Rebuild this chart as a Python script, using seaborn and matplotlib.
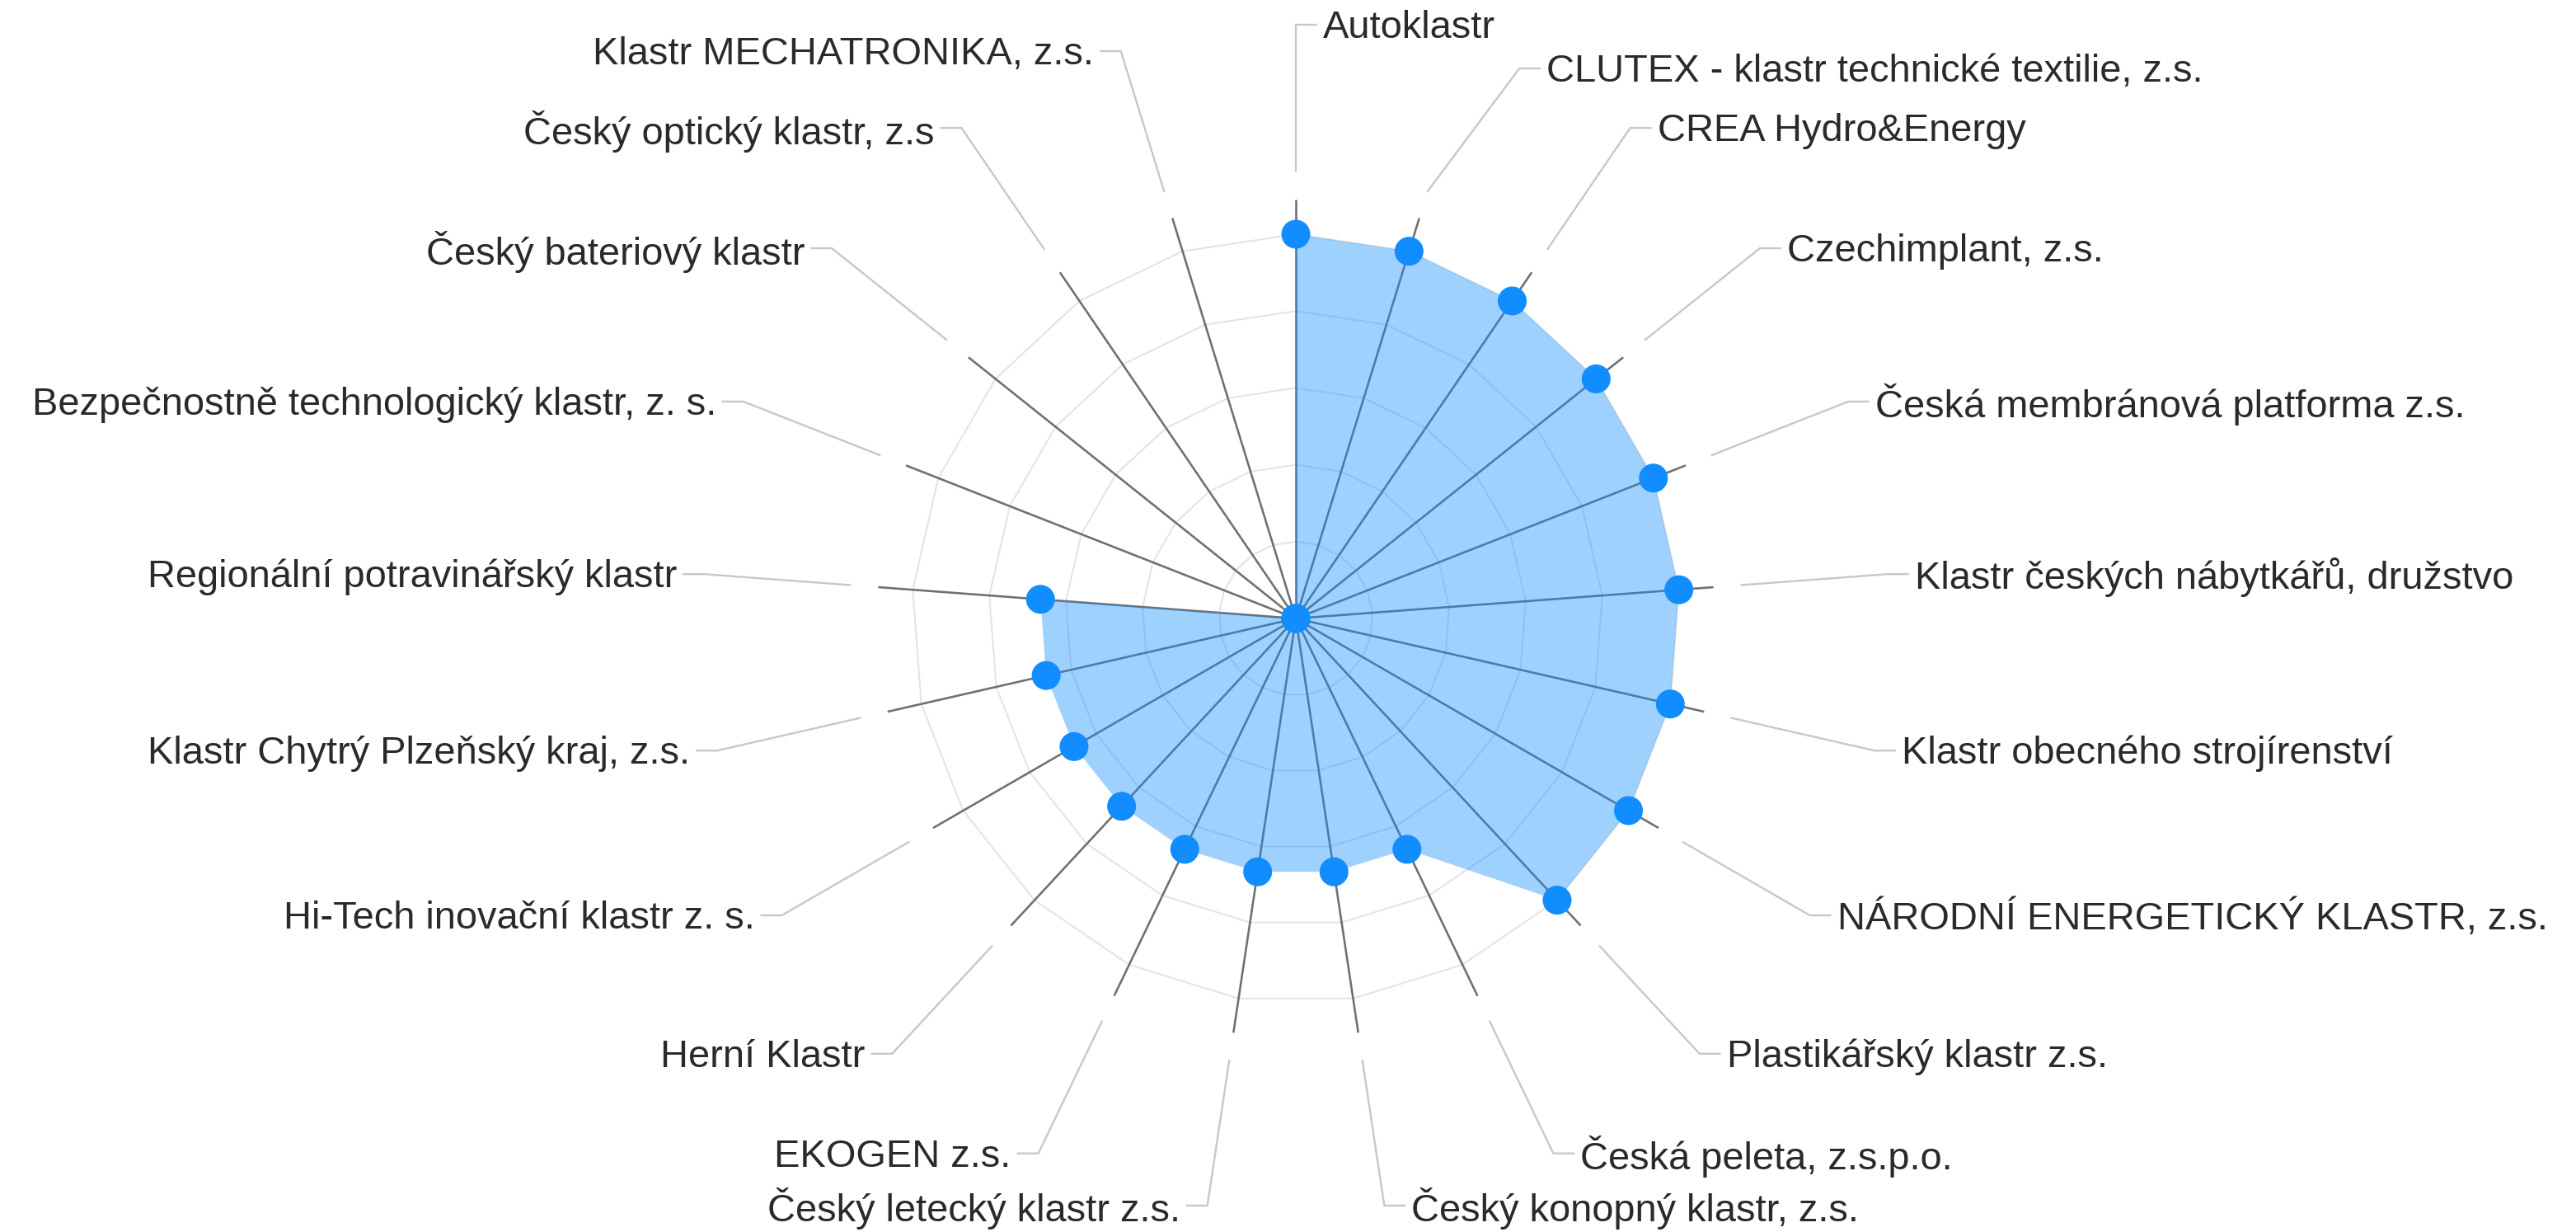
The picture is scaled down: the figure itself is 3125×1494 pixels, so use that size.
import numpy as np
import pandas as pd
import matplotlib
matplotlib.use("Agg")
import matplotlib.pyplot as plt
import seaborn as sns

# cluster names, clockwise from the top
clusters = [
    "Autoklastr",
    "CLUTEX - klastr technické textilie, z.s.",
    "CREA Hydro&Energy",
    "Czechimplant, z.s.",
    "Česká membránová platforma z.s.",
    "Klastr českých nábytkářů, družstvo",
    "Klastr obecného strojírenství",
    "NÁRODNÍ ENERGETICKÝ KLASTR, z.s.",
    "Plastikářský klastr z.s.",
    "Česká peleta, z.s.p.o.",
    "Český konopný klastr, z.s.",
    "Český letecký klastr z.s.",
    "EKOGEN z.s.",
    "Herní Klastr",
    "Hi-Tech inovační klastr z. s.",
    "Klastr Chytrý Plzeňský kraj, z.s.",
    "Regionální potravinářský klastr",
    "Bezpečnostně technologický klastr, z. s.",
    "Český bateriový klastr",
    "Český optický klastr, z.s",
    "Klastr MECHATRONIKA, z.s.",
]
scores = [3, 3, 3, 3, 3, 3, 3, 3, 3, 2, 2, 2, 2, 2, 2, 2, 2, 0, 0, 0, 0]
ring_levels = [0.6, 1.2, 1.8, 2.4, 3.0]
value_max = 3.0

# layout (pixels)
W, H = 3125, 1494
CX, CY = 1572, 750
R_MAX = 466        # radius of the outer ring
SPOKE_R = 508      # dark spoke length
LEADER_R0 = 542    # leader line start
LABEL_R = 720      # elbow radius of the leader lines
MIN_GAP = 53       # min vertical spacing between labels on one side
TICK = 25
PAD = 8

BLUE = "#118DFF"
TEXT = "#2b2a29"

sns.set_style("white")
plt.rcParams["font.family"] = ["Liberation Sans", "DejaVu Sans"]

n = len(clusters)
theta = 2 * np.pi * np.arange(n) / n
df = pd.DataFrame({"cluster": clusters, "score": scores, "theta": theta})
df["r"] = df["score"] / value_max * R_MAX
df["x"] = df["r"] * np.sin(df["theta"])
df["y"] = df["r"] * np.cos(df["theta"])

fig = plt.figure(figsize=(W / 100, H / 100), dpi=100)
ax = fig.add_axes([0, 0, 1, 1])
ax.set_xlim(-CX, W - CX)
ax.set_ylim(-(H - CY), CY)
ax.axis("off")

px = 0.72  # points per pixel

# grid rings (polygons)
closed = np.append(theta, theta[0])
for lvl in ring_levels:
    rr = lvl / value_max * R_MAX
    ax.plot(rr * np.sin(closed), rr * np.cos(closed), color="#e3e3e3",
            lw=2 * px, zorder=1)

# spokes
for t in theta:
    ax.plot([0, SPOKE_R * np.sin(t)], [0, SPOKE_R * np.cos(t)],
            color="#707070", lw=2.6 * px, zorder=2, solid_capstyle="butt")

# filled area
ax.fill(np.append(df["x"], df["x"].iloc[0]), np.append(df["y"], df["y"].iloc[0]),
        color=BLUE, alpha=0.4, lw=0, zorder=3)

# points
sns.scatterplot(data=df, x="x", y="y", ax=ax, color=BLUE, s=(35 * px) ** 2,
                edgecolor="none", linewidth=0, zorder=4, legend=False)

# label positions on a circle, pushed apart vertically per side
ey = LABEL_R * np.cos(theta)
right = [i for i in range(n) if np.sin(theta[i]) >= -1e-9]
left = [i for i in range(n) if np.sin(theta[i]) < -1e-9][::-1]
for side in (right, left):
    prev = None
    for i in side:
        if prev is not None and prev - ey[i] < MIN_GAP:
            ey[i] = prev - MIN_GAP
        prev = ey[i]

for i in range(n):
    t = theta[i]
    sgn = 1 if i in right else -1
    ex = sgn * np.sqrt(max(LABEL_R ** 2 - ey[i] ** 2, 0))
    x0, y0 = LEADER_R0 * np.sin(t), LEADER_R0 * np.cos(t)
    ax.plot([x0, ex, ex + sgn * TICK], [y0, ey[i], ey[i]], color="#c8c8c8",
            lw=2.4 * px, zorder=1, solid_joinstyle="miter")
    ax.text(ex + sgn * (TICK + PAD), ey[i] - 4, clusters[i],
            ha="left" if sgn > 0 else "right", va="center",
            fontsize=47 * px, color=TEXT)

fig.savefig("out.png", dpi=100, facecolor="white")
